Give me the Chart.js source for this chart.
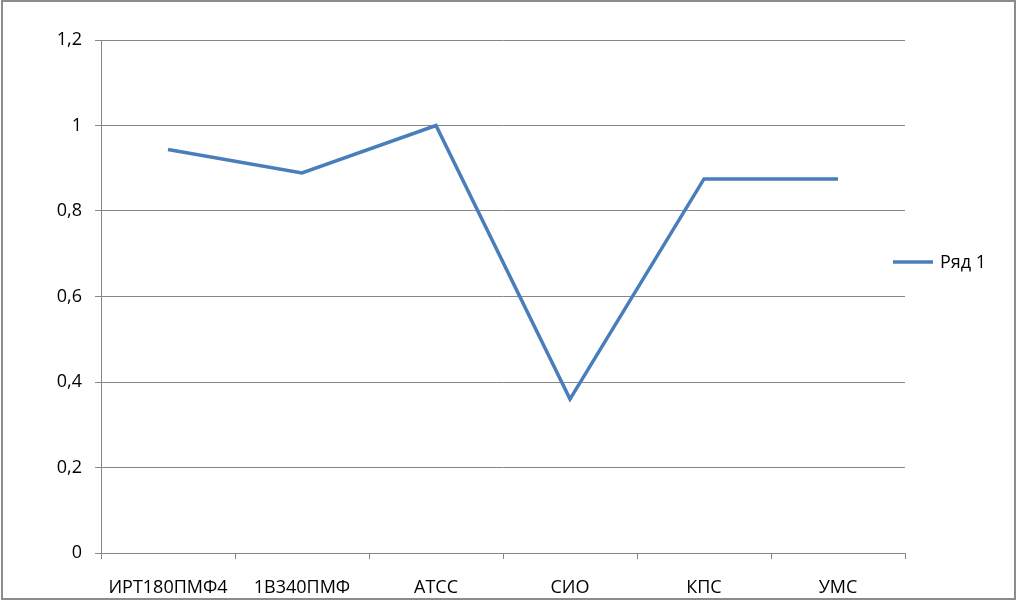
<!DOCTYPE html>
<html>
<head>
<meta charset="utf-8">
<script src="https://cdn.jsdelivr.net/npm/chart.js@4/dist/chart.umd.min.js"></script>
<style>
  html, body { margin: 0; padding: 0; background: #fff; }
  #wrap { position: relative; width: 1017px; height: 601px; }
  #frame { position: absolute; left: 1px; top: 0; width: 1015px; height: 600px; box-sizing: border-box; border: 2px solid #8c8c8c; pointer-events: none; }
</style>
</head>
<body>
<div id="wrap">
  <canvas id="c" width="1017" height="601"></canvas>
  <div id="frame"></div>
</div>
<script>
const categories = ["ИРТ180ПМФ4", "1В340ПМФ", "АТСС", "СИО", "КПС", "УМС"];
const seriesName = "Ряд 1";
const seriesValues = [0.944, 0.889, 1.0, 0.36, 0.875, 0.875];
const yTicks = [0, 0.2, 0.4, 0.6, 0.8, 1.0, 1.2];

const FONT = { family: "'Open Sans', sans-serif", size: 18 };
const LINE_COLOR = "#4a7ebb";
const GRID_COLOR = "#868686";

const legendPlugin = {
  id: "manualLegend",
  afterDraw(chart) {
    const ctx = chart.ctx;
    const ds = chart.data.datasets[0];
    ctx.save();
    ctx.strokeStyle = ds.borderColor;
    ctx.lineWidth = 3.5;
    ctx.beginPath();
    ctx.moveTo(893, 262);
    ctx.lineTo(933, 262);
    ctx.stroke();
    ctx.fillStyle = "#000";
    ctx.font = FONT.size + "px " + FONT.family;
    ctx.textBaseline = "middle";
    ctx.textAlign = "left";
    ctx.fillText(ds.label, 940, 263);
    ctx.restore();
  }
};

new Chart(document.getElementById("c"), {
  type: "line",
  data: {
    labels: categories,
    datasets: [{
      label: seriesName,
      data: seriesValues,
      borderColor: LINE_COLOR,
      backgroundColor: LINE_COLOR,
      borderWidth: 3.5,
      pointRadius: 0,
      tension: 0,
      fill: false
    }]
  },
  options: {
    responsive: false,
    animation: false,
    layout: { padding: { left: 0, right: 112, top: 40, bottom: 0 } },
    plugins: { legend: { display: false }, tooltip: { enabled: false } },
    scales: {
      x: {
        offset: true,
        grid: { offset: true, drawOnChartArea: false, drawTicks: true, tickLength: 6, color: GRID_COLOR, lineWidth: 1 },
        border: { color: GRID_COLOR, width: 1 },
        ticks: { color: "#000", font: FONT, padding: 18, maxRotation: 0, autoSkip: false },
        afterFit(scale) { scale.height = 48; }
      },
      y: {
        min: 0, max: 1.2,
        afterBuildTicks(scale) { scale.ticks = yTicks.map(v => ({ value: v })); },
        grid: { color: GRID_COLOR, lineWidth: 1, drawTicks: true, tickLength: 6 },
        border: { color: GRID_COLOR, width: 1 },
        ticks: {
          color: "#000", font: FONT, padding: 13,
          callback: v => String(Math.round(v * 10) / 10).replace(".", ",")
        },
        afterFit(scale) { scale.width = 101; }
      }
    }
  },
  plugins: [legendPlugin]
});
</script>
</body>
</html>
